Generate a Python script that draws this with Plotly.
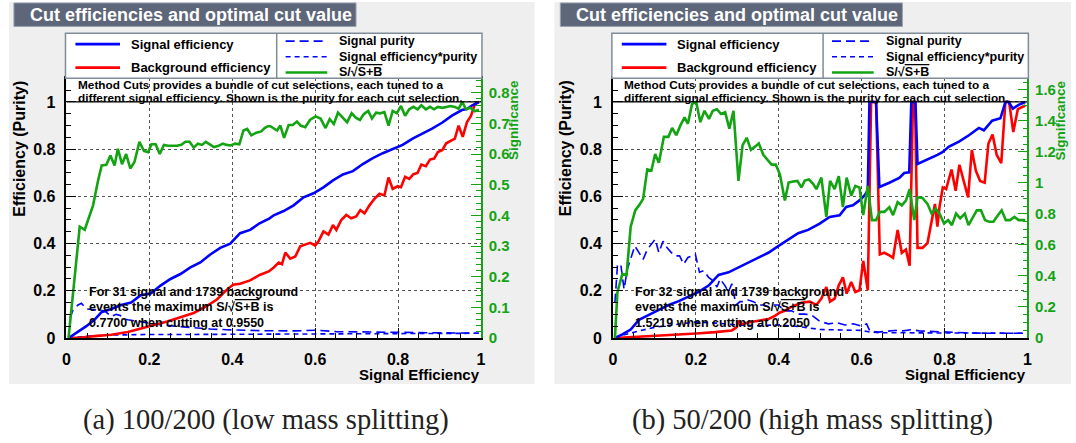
import plotly.graph_objects as go

# ---------------- data: (a) 100/200 low mass splitting ----------------
A_eff_x = [0.005, 0.032, 0.048, 0.068, 0.084, 0.108, 0.132, 0.156, 0.179, 0.203, 0.227, 0.251, 0.275, 0.299, 0.323,
           0.347, 0.371, 0.395, 0.419, 0.443, 0.466, 0.490, 0.500, 0.524, 0.548, 0.572, 0.596, 0.620, 0.643, 0.667,
           0.691, 0.715, 0.739, 0.763, 0.787, 0.811, 0.835, 0.859, 0.882, 0.906, 0.930, 0.954, 0.966, 0.978, 0.995]
A_eff_y = [0.0, 0.032, 0.05, 0.078, 0.109, 0.123, 0.140, 0.150, 0.181, 0.188, 0.222, 0.250, 0.271, 0.299, 0.320,
           0.354, 0.382, 0.400, 0.444, 0.458, 0.486, 0.507, 0.520, 0.538, 0.562, 0.596, 0.613, 0.638, 0.668, 0.693,
           0.707, 0.737, 0.762, 0.783, 0.801, 0.818, 0.845, 0.866, 0.887, 0.912, 0.942, 0.966, 0.970, 0.985, 1.0]

A_bkg_x = [0.005, 0.036, 0.068, 0.108, 0.148, 0.179, 0.211, 0.243, 0.275, 0.307, 0.339, 0.363, 0.387, 0.402, 0.419,
           0.443, 0.466, 0.488, 0.500, 0.512, 0.520, 0.528, 0.540, 0.552, 0.564, 0.576, 0.588, 0.600, 0.608, 0.620,
           0.632, 0.643, 0.651, 0.663, 0.675, 0.687, 0.699, 0.709, 0.719, 0.731, 0.743, 0.755, 0.767, 0.777, 0.787,
           0.799, 0.807, 0.817, 0.827, 0.837, 0.847, 0.856, 0.867, 0.877, 0.887, 0.896, 0.907, 0.916, 0.927, 0.937,
           0.946, 0.956, 0.966, 0.976, 0.985, 0.995]
A_bkg_y = [0.0, 0.002, 0.008, 0.014, 0.025, 0.039, 0.053, 0.070, 0.088, 0.106, 0.136, 0.163, 0.205, 0.226, 0.230,
           0.244, 0.267, 0.282, 0.299, 0.320, 0.313, 0.362, 0.336, 0.345, 0.389, 0.396, 0.403, 0.392, 0.410, 0.452,
           0.438, 0.479, 0.458, 0.500, 0.521, 0.507, 0.515, 0.542, 0.528, 0.562, 0.590, 0.611, 0.604, 0.680, 0.632,
           0.643, 0.639, 0.683, 0.674, 0.694, 0.699, 0.735, 0.728, 0.756, 0.760, 0.788, 0.797, 0.825, 0.834, 0.845,
           0.900, 0.852, 0.914, 0.942, 0.990, 1.0]

A_pur_x = [0.008, 0.016, 0.028, 0.036, 0.048, 0.068, 0.092, 0.108, 0.120, 0.130, 0.140, 0.148, 0.187, 0.227, 0.267,
           0.307, 0.347, 0.387, 0.466, 0.550, 0.600, 0.650, 0.700, 0.800, 0.900, 0.995]
A_pur_y = [0.084, 0.119, 0.140, 0.147, 0.123, 0.119, 0.115, 0.091, 0.100, 0.095, 0.080, 0.077, 0.067, 0.056, 0.049,
           0.042, 0.038, 0.035, 0.031, 0.030, 0.033, 0.027, 0.026, 0.025, 0.022, 0.020]

A_ep_x = [0.005, 0.03, 0.06, 0.10, 0.15, 0.20, 0.30, 0.40, 0.50, 0.60, 0.70, 0.80, 0.90, 0.995]
A_ep_y = [0.0, 0.005, 0.009, 0.012, 0.014, 0.015, 0.015, 0.016, 0.017, 0.018, 0.018, 0.019, 0.020, 0.020]

A_sig_x = [0.005, 0.032, 0.044, 0.064, 0.076, 0.085, 0.096, 0.106, 0.116, 0.124, 0.134, 0.144, 0.154, 0.164, 0.176,
           0.187, 0.197, 0.205, 0.215, 0.225, 0.235, 0.245, 0.255, 0.267, 0.277, 0.287, 0.297, 0.307, 0.317, 0.327,
           0.336, 0.347, 0.356, 0.367, 0.377, 0.387, 0.396, 0.407, 0.417, 0.427, 0.436, 0.446, 0.458, 0.470, 0.478,
           0.486, 0.492, 0.508, 0.516, 0.525, 0.536, 0.546, 0.556, 0.565, 0.576, 0.588, 0.601, 0.613, 0.625, 0.635,
           0.645, 0.655, 0.666, 0.677, 0.688, 0.698, 0.708, 0.717, 0.728, 0.737, 0.747, 0.757, 0.767, 0.777, 0.787,
           0.797, 0.807, 0.817, 0.827, 0.837, 0.847, 0.856, 0.867, 0.877, 0.887, 0.896, 0.907, 0.916, 0.927, 0.937,
           0.946, 0.955, 0.964, 0.974, 0.985, 0.995]
A_sig_y = [0.0, 0.363, 0.353, 0.432, 0.512, 0.563, 0.565, 0.595, 0.563, 0.617, 0.567, 0.600, 0.553, 0.574, 0.640,
           0.610, 0.606, 0.632, 0.632, 0.600, 0.630, 0.627, 0.627, 0.627, 0.630, 0.640, 0.640, 0.621, 0.634, 0.630,
           0.640, 0.630, 0.623, 0.627, 0.634, 0.630, 0.628, 0.634, 0.632, 0.677, 0.682, 0.661, 0.670, 0.674, 0.685,
           0.691, 0.691, 0.677, 0.693, 0.653, 0.695, 0.695, 0.706, 0.693, 0.688, 0.712, 0.723, 0.716, 0.685, 0.714,
           0.698, 0.735, 0.719, 0.704, 0.733, 0.719, 0.711, 0.730, 0.741, 0.716, 0.735, 0.733, 0.737, 0.693, 0.741,
           0.733, 0.757, 0.725, 0.746, 0.754, 0.746, 0.759, 0.746, 0.754, 0.746, 0.754, 0.751, 0.754, 0.757, 0.754,
           0.748, 0.770, 0.746, 0.751, 0.740, 0.745]

# ---------------- data: (b) 50/200 high mass splitting ----------------
B_eff_x = [0.005, 0.023, 0.043, 0.063, 0.087, 0.111, 0.135, 0.159, 0.183, 0.207, 0.231, 0.255, 0.279, 0.303, 0.327,
           0.351, 0.375, 0.399, 0.423, 0.447, 0.471, 0.487, 0.499, 0.523, 0.547, 0.563, 0.579, 0.595, 0.607, 0.615,
           0.619, 0.635, 0.643, 0.667, 0.691, 0.703, 0.715, 0.720, 0.730, 0.735, 0.759, 0.783, 0.795, 0.811, 0.835,
           0.859, 0.883, 0.895, 0.915, 0.935, 0.947, 0.955, 0.965, 0.979, 0.995]
B_eff_y = [0.0, 0.015, 0.036, 0.077, 0.098, 0.119, 0.140, 0.156, 0.174, 0.195, 0.222, 0.267, 0.278, 0.299, 0.320,
           0.341, 0.361, 0.389, 0.417, 0.444, 0.458, 0.472, 0.485, 0.513, 0.520, 0.555, 0.562, 0.583, 0.604, 0.625,
           1.0, 1.0, 0.640, 0.658, 0.678, 0.699, 0.702, 1.0, 1.0, 0.737, 0.755, 0.776, 0.787, 0.811, 0.832,
           0.859, 0.890, 0.880, 0.921, 0.931, 1.0, 1.0, 0.972, 0.988, 1.0]

B_bkg_x = [0.005, 0.063, 0.143, 0.201, 0.247, 0.287, 0.299, 0.303, 0.311, 0.327, 0.351, 0.375, 0.391, 0.403, 0.415,
           0.427, 0.439, 0.455, 0.475, 0.491, 0.503, 0.515, 0.524, 0.535, 0.545, 0.555, 0.564, 0.575, 0.585, 0.595,
           0.604, 0.615, 0.623, 0.635, 0.644, 0.655, 0.667, 0.676, 0.687, 0.697, 0.707, 0.716, 0.724, 0.729, 0.735,
           0.747, 0.759, 0.769, 0.777, 0.783, 0.788, 0.796, 0.804, 0.817, 0.827, 0.836, 0.847, 0.857, 0.866, 0.876,
           0.886, 0.897, 0.906, 0.916, 0.926, 0.937, 0.947, 0.956, 0.966, 0.977, 0.995]
B_bkg_y = [0.0, 0.005, 0.012, 0.019, 0.025, 0.032, 0.046, 0.073, 0.059, 0.066, 0.073, 0.080, 0.094, 0.108, 0.115,
           0.129, 0.138, 0.149, 0.154, 0.140, 0.167, 0.216, 0.154, 0.167, 0.223, 0.257, 0.188, 0.237, 0.195, 0.202,
           0.327, 0.202, 1.0, 1.0, 0.354, 0.361, 0.350, 0.340, 0.458, 0.361, 0.375, 0.306, 1.0, 1.0, 0.382,
           0.382, 0.402, 0.499, 0.568, 0.472, 0.555, 0.638, 0.631, 0.714, 0.624, 0.734, 0.665, 0.596, 0.797, 0.707,
           0.665, 0.658, 0.824, 0.862, 0.776, 0.741, 1.0, 1.0, 0.873, 0.970, 0.985]

B_pur_x = [0.005, 0.011, 0.019, 0.027, 0.035, 0.043, 0.053, 0.063, 0.073, 0.083, 0.093, 0.102, 0.111, 0.121, 0.131,
           0.141, 0.151, 0.161, 0.171, 0.181, 0.191, 0.199, 0.209, 0.219, 0.231, 0.241, 0.251, 0.259, 0.270, 0.279,
           0.287, 0.297, 0.307, 0.317, 0.327, 0.339, 0.351, 0.363, 0.375, 0.387, 0.399, 0.415, 0.431, 0.447, 0.463,
           0.479, 0.500, 0.520, 0.540, 0.560, 0.580, 0.600, 0.612, 0.620, 0.640, 0.660, 0.680, 0.700, 0.720, 0.740,
           0.760, 0.800, 0.850, 0.900, 0.950, 0.995]
B_pur_y = [0.150, 0.306, 0.313, 0.207, 0.292, 0.333, 0.390, 0.362, 0.333, 0.375, 0.396, 0.418, 0.362, 0.410, 0.382,
           0.362, 0.348, 0.348, 0.313, 0.341, 0.348, 0.355, 0.279, 0.285, 0.257, 0.243, 0.216, 0.250, 0.223, 0.195,
           0.230, 0.140, 0.154, 0.154, 0.161, 0.154, 0.140, 0.140, 0.133, 0.140, 0.140, 0.115, 0.115, 0.101, 0.101,
           0.098, 0.070, 0.060, 0.065, 0.055, 0.060, 0.050, 0.060, 0.030, 0.025, 0.028, 0.032, 0.030, 0.035, 0.030,
           0.028, 0.025, 0.022, 0.020, 0.020, 0.020]

B_ep_x = [0.005, 0.03, 0.063, 0.10, 0.143, 0.20, 0.25, 0.30, 0.35, 0.40, 0.45, 0.50, 0.55, 0.60, 0.62, 0.65, 0.70,
          0.75, 0.80, 0.90, 0.995]
B_ep_y = [0.0, 0.015, 0.030, 0.045, 0.055, 0.068, 0.063, 0.055, 0.052, 0.056, 0.048, 0.036, 0.034, 0.032, 0.025,
          0.022, 0.022, 0.022, 0.020, 0.020, 0.020]

B_sig_x = [0.005, 0.011, 0.023, 0.033, 0.043, 0.054, 0.063, 0.073, 0.083, 0.093, 0.102, 0.111, 0.123, 0.134, 0.143,
           0.153, 0.163, 0.173, 0.181, 0.191, 0.201, 0.211, 0.221, 0.232, 0.241, 0.251, 0.261, 0.271, 0.281, 0.291,
           0.303, 0.313, 0.323, 0.333, 0.343, 0.352, 0.363, 0.373, 0.383, 0.393, 0.403, 0.415, 0.424, 0.435, 0.445,
           0.455, 0.463, 0.473, 0.483, 0.491, 0.503, 0.515, 0.524, 0.535, 0.545, 0.555, 0.564, 0.575, 0.585, 0.595,
           0.604, 0.615, 0.625, 0.635, 0.644, 0.655, 0.667, 0.676, 0.687, 0.697, 0.707, 0.716, 0.727, 0.735, 0.747,
           0.759, 0.769, 0.779, 0.788, 0.799, 0.809, 0.818, 0.828, 0.838, 0.849, 0.858, 0.868, 0.878, 0.888, 0.898,
           0.908, 0.918, 0.929, 0.938, 0.948, 0.958, 0.969, 0.979, 0.995]
B_sig_y = [0.0, 0.297, 0.413, 0.406, 0.718, 0.823, 0.855, 0.897, 1.087, 1.080, 1.186, 1.130, 1.297, 1.297, 1.354,
           1.308, 1.371, 1.423, 1.381, 1.508, 1.522, 1.392, 1.465, 1.413, 1.465, 1.475, 1.444, 1.455, 1.350, 1.465,
           1.013, 1.244, 1.291, 1.213, 1.234, 1.255, 1.181, 1.150, 1.118, 1.118, 1.055, 0.886, 1.002, 1.009, 1.013,
           0.971, 1.015, 1.022, 0.994, 0.960, 1.034, 0.781, 1.013, 0.960, 1.044, 0.844, 1.034, 0.918, 0.981, 0.970,
           0.792, 0.981, 0.760, 0.760, 0.813, 0.813, 0.844, 0.792, 0.876, 0.855, 0.886, 0.960, 0.760, 0.907, 0.903,
           0.865, 0.802, 0.834, 0.802, 0.739, 0.760, 0.728, 0.802, 0.771, 0.802, 0.728, 0.771, 0.823, 0.823, 0.760,
           0.750, 0.750, 0.792, 0.823, 0.760, 0.760, 0.781, 0.760, 0.760]

X_TICKS = [0, 0.2, 0.4, 0.6, 0.8, 1]
A_SIG_MAX, A_CUT, A_NS = 0.7700, 0.9550, 31
B_SIG_MAX, B_CUT, B_NS = 1.5219, 0.2050, 32
N_BKG = 1739
CAPTIONS = ["(a) 100/200 (low mass splitting)", "(b) 50/200 (high mass splitting)"]

for a, b in [(A_eff_x, A_eff_y), (A_bkg_x, A_bkg_y), (A_pur_x, A_pur_y), (A_ep_x, A_ep_y), (A_sig_x, A_sig_y),
             (B_eff_x, B_eff_y), (B_bkg_x, B_bkg_y), (B_pur_x, B_pur_y), (B_ep_x, B_ep_y), (B_sig_x, B_sig_y)]:
    assert len(a) == len(b), (len(a), len(b))

# ---------------- styling ----------------
W, H = 1076, 443
GREEN = "#13a313"
BLUE = "#0000ff"
RED = "#ff0000"
FONT = "Liberation Sans"
PANEL_BG = "#efefef"
TITLE_BG = "#5d6779"


def X(p):
    return p / W


def Y(p):
    return 1 - p / H


OVER = '<span style="text-decoration:overline">S+B</span>'

fig = go.Figure()
shapes = []
annotations = []

panels = [
    dict(ox=0, xa="x", ya="y", ya2="y2",
         eff=(A_eff_x, A_eff_y), bkg=(A_bkg_x, A_bkg_y), pur=(A_pur_x, A_pur_y),
         ep=(A_ep_x, A_ep_y), sig=(A_sig_x, A_sig_y), smax=A_SIG_MAX, cut=A_CUT, ns=A_NS,
         cap=CAPTIONS[0], sig_minor=0.02, sig_dtick=0.1, panel=(5, 535)),
    dict(ox=551, xa="x2", ya="y3", ya2="y4",
         eff=(B_eff_x, B_eff_y), bkg=(B_bkg_x, B_bkg_y), pur=(B_pur_x, B_pur_y),
         ep=(B_ep_x, B_ep_y), sig=(B_sig_x, B_sig_y), smax=B_SIG_MAX, cut=B_CUT, ns=B_NS,
         cap=CAPTIONS[1], sig_minor=0.05, sig_dtick=0.2, panel=(555, 1076)),
]

PL, PR, PT, PB = 63, 481, 80, 345  # plot area of panel (a) in pixels

layout_axes = {}
for i, p in enumerate(panels):
    ox = p["ox"]
    # background panel + white plot area
    shapes.append(dict(type="rect", xref="paper", yref="paper", x0=X(p["panel"][0]), x1=X(p["panel"][1]),
                       y0=Y(392), y1=Y(2), fillcolor=PANEL_BG, line=dict(width=0), layer="below"))
    shapes.append(dict(type="rect", xref="paper", yref="paper", x0=X(PL + ox), x1=X(PR + ox),
                       y0=Y(PB), y1=Y(PT), fillcolor="white", line=dict(width=0), layer="below"))

    # traces
    xa, ya, ya2 = p["xa"], p["ya"], p["ya2"]
    common = dict(mode="lines", showlegend=False, hoverinfo="skip", xaxis=xa)
    fig.add_trace(go.Scatter(x=p["pur"][0], y=p["pur"][1], yaxis=ya,
                             line=dict(color=BLUE, width=1.6, dash="9px,5px"), **common))
    fig.add_trace(go.Scatter(x=p["ep"][0], y=p["ep"][1], yaxis=ya,
                             line=dict(color=BLUE, width=1.6, dash="5px,4px"), **common))
    fig.add_trace(go.Scatter(x=p["bkg"][0], y=p["bkg"][1], yaxis=ya,
                             line=dict(color=RED, width=2.6), **common))
    fig.add_trace(go.Scatter(x=p["eff"][0], y=p["eff"][1], yaxis=ya,
                             line=dict(color=BLUE, width=2.6), **common))
    fig.add_trace(go.Scatter(x=p["sig"][0], y=p["sig"][1], yaxis=ya2,
                             line=dict(color=GREEN, width=2.6), **common))

    xkey = "xaxis" if i == 0 else "xaxis2"
    ykey = "yaxis" if i == 0 else "yaxis3"
    y2key = "yaxis2" if i == 0 else "yaxis4"
    bold = dict(family=FONT, size=16, color="black", weight="bold")
    layout_axes[xkey] = dict(
        domain=[X(PL + ox), X(PR + ox)], anchor=ya, range=[0, 1], tickvals=X_TICKS,
        ticks="inside", ticklen=10, tickwidth=1, tickcolor="black",
        minor=dict(dtick=0.05, tick0=0, ticks="inside", ticklen=5, tickcolor="black", showgrid=False),
        showgrid=True, gridcolor="#555555", griddash="dot", gridwidth=1,
        showline=True, linecolor="black", linewidth=1.5, mirror=True, zeroline=False,
        tickfont=bold, ticklabelstandoff=6)
    layout_axes[ykey] = dict(
        domain=[Y(PB), Y(PT)], anchor=xa, range=[0, 1.1], dtick=0.2, tick0=0,
        ticks="inside", ticklen=10, tickwidth=1, tickcolor="black",
        minor=dict(dtick=0.05, tick0=0, ticks="inside", ticklen=5, tickcolor="black", showgrid=False),
        showgrid=True, gridcolor="#555555", griddash="dot", gridwidth=1,
        showline=True, linecolor="black", linewidth=1.5, zeroline=False,
        tickfont=bold, ticklabelstandoff=6)
    layout_axes[y2key] = dict(
        overlaying=ya, side="right", anchor=xa, range=[0, p["smax"] * 1.1], dtick=p["sig_dtick"], tick0=0,
        ticks="inside", ticklen=10, tickwidth=1, tickcolor=GREEN,
        minor=dict(dtick=p["sig_minor"], tick0=0, ticks="inside", ticklen=5, tickcolor=GREEN, showgrid=False),
        showgrid=False, showline=True, linecolor=GREEN, linewidth=1.5, zeroline=False,
        tickfont=dict(family=FONT, size=15, color=GREEN, weight="bold"), ticklabelstandoff=3)

    # title box
    shapes.append(dict(type="rect", xref="paper", yref="paper", x0=X(10 + ox), x1=X(355 + ox),
                       y0=Y(27), y1=Y(3), fillcolor=TITLE_BG, line=dict(color="#9aa3ae", width=1)))
    annotations.append(dict(x=X(24 + ox), y=Y(15), xref="paper", yref="paper", xanchor="left",
                            yanchor="middle", showarrow=False,
                            text="<b>Cut efficiencies and optimal cut value</b>",
                            font=dict(family=FONT, size=18, color="white")))

    # legend box
    shapes.append(dict(type="rect", xref="paper", yref="paper", x0=X(62 + ox), x1=X(482 + ox),
                       y0=Y(80), y1=Y(34), fillcolor="white", line=dict(color="#7f8c99", width=1.5)))
    shapes.append(dict(type="line", xref="paper", yref="paper", x0=X(275 + ox), x1=X(275 + ox),
                       y0=Y(80), y1=Y(34), line=dict(color="#7f8c99", width=1.5)))
    leg = [
        (72, 117, 45, BLUE, "solid", 2.6, 126, "Signal efficiency", 13),
        (72, 117, 69, RED, "solid", 2.6, 126, "Background efficiency", 13),
        (284, 326, 42, BLUE, "9px,5px", 1.6, 336, "Signal purity", 12.5),
        (284, 326, 58, BLUE, "5px,4px", 1.6, 336, "Signal efficiency*purity", 12.5),
        (284, 326, 74, GREEN, "solid", 2.6, 336, "S/√" + OVER, 12.5),
    ]
    for x0, x1, yy, col, dash, wd, tx, txt, fs in leg:
        shapes.append(dict(type="line", xref="paper", yref="paper", x0=X(x0 + ox), x1=X(x1 + ox),
                           y0=Y(yy), y1=Y(yy), line=dict(color=col, width=wd, dash=dash)))
        annotations.append(dict(x=X(tx + ox), y=Y(yy), xref="paper", yref="paper", xanchor="left",
                                yanchor="middle", showarrow=False, text="<b>" + txt + "</b>",
                                font=dict(family=FONT, size=fs, color="black")))

    # description box at the top of the frame
    shapes.append(dict(type="line", xref=xa, yref=ya, x0=0, x1=1, y0=1.0, y1=1.0,
                       line=dict(color="black", width=1.2)))
    for yy, txt in [(87, "Method Cuts provides a bundle of cut selections, each tuned to a"),
                    (100, "different signal efficiency. Shown is the purity for each cut selection.")]:
        annotations.append(dict(x=X(PL + 10.5 + ox), y=Y(yy), xref="paper", yref="paper", xanchor="left",
                                yanchor="middle", showarrow=False, text="<b>" + txt + "</b>", borderpad=0,
                                font=dict(family=FONT, size=11.8, color="black")))

    # result text
    lines = [f"For {p['ns']} signal and {N_BKG} background",
             "events the maximum S/√" + OVER + " is",
             f"{p['smax']:.4f} when cutting at {p['cut']:.4f}"]
    for yy, txt in zip([298, 313.5, 329.5], lines):
        annotations.append(dict(x=X(PL + 20.5 + ox), y=Y(yy), xref="paper", yref="paper", xanchor="left",
                                yanchor="middle", showarrow=False, text="<b>" + txt + "</b>",
                                font=dict(family=FONT, size=12.5, color="black")))

    # axis titles
    annotations.append(dict(x=X(15.5 + ox), y=Y(80), xref="paper", yref="paper", xanchor="center",
                            yanchor="top", showarrow=False, textangle=-90, text="<b>Efficiency (Purity)</b>",
                            font=dict(family=FONT, size=16, color="black")))
    annotations.append(dict(x=X(514 + ox), y=Y(80), xref="paper", yref="paper", xanchor="center",
                            yanchor="top", showarrow=False, textangle=-90, text="<b>Significance</b>",
                            font=dict(family=FONT, size=13.5, color=GREEN)))
    annotations.append(dict(x=X(PR + ox), y=Y(382), xref="paper", yref="paper", xanchor="right",
                            yanchor="middle", showarrow=False, text="<b>Signal Efficiency</b>", borderpad=0,
                            font=dict(family=FONT, size=15, color="black")))
    # caption
    annotations.append(dict(x=X(264 + ox), y=Y(429), xref="paper", yref="paper", xanchor="center",
                            yanchor="middle", showarrow=False, text=p["cap"],
                            font=dict(family="Liberation Serif", size=28.5, color="#222222")))

fig.update_layout(
    width=W, height=H, margin=dict(l=0, r=0, t=0, b=0),
    paper_bgcolor="white", plot_bgcolor="rgba(0,0,0,0)",
    showlegend=False, shapes=shapes, annotations=annotations, **layout_axes)

fig.write_html("out.html")
